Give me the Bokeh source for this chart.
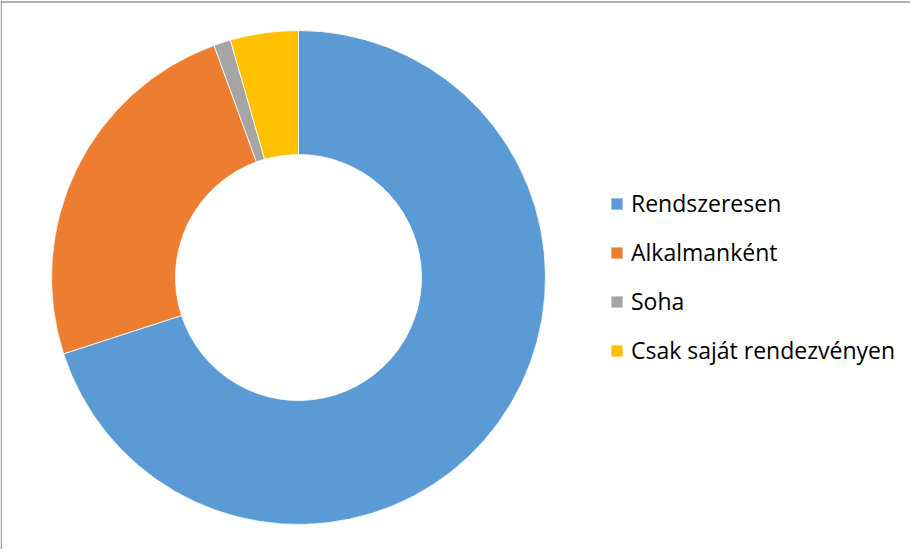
import numpy as np
from bokeh.plotting import figure
from bokeh.models import Legend, LegendItem, Span
from bokeh.embed import file_html
from bokeh.resources import INLINE

# Data
categories = ["Rendszeresen", "Alkalmanként", "Soha", "Csak saját rendezvényen"]
values = [63, 22, 1, 4]
colors = ["#5B9BD5", "#ED7D31", "#A5A5A5", "#FFC000"]

W, H = 910, 549
p = figure(width=W, height=H, output_backend="svg", toolbar_location=None,
           x_range=(0, W), y_range=(0, H), min_border=0)
p.axis.visible = False
p.grid.visible = False
p.outline_line_color = None
p.background_fill_color = "white"
p.border_fill_color = "white"

vals = np.array(values, dtype=float)
frac = vals / vals.sum()
cum = np.concatenate([[0.0], np.cumsum(frac)])
start = np.pi / 2 - cum[:-1] * 2 * np.pi
end = np.pi / 2 - cum[1:] * 2 * np.pi

cx, cy = 298, 272

renderers = []
for i in range(len(values)):
    r = p.annular_wedge(x=cx, y=cy, inner_radius=123, outer_radius=247,
                        start_angle=start[i], end_angle=end[i], direction="clock",
                        fill_color=colors[i], line_color="white", line_width=0.8)
    renderers.append(r)

legend = Legend(items=[LegendItem(label=c, renderers=[r]) for c, r in zip(categories, renderers)],
                location=(609, 183), glyph_width=15, glyph_height=15,
                label_text_font="Open Sans", label_text_font_size="23px",
                label_text_color="#000000", label_standoff=7, spacing=17,
                padding=0, margin=0, border_line_color=None, background_fill_alpha=0,
                label_height=15)
p.add_layout(legend, "center")

p.add_layout(Span(location=0.7, dimension="height", line_color="#999999", line_width=1.3))
p.add_layout(Span(location=H - 1.5, dimension="width", line_color="#999999", line_width=1.3))

open("out.html", "w").write(file_html(p, INLINE))
